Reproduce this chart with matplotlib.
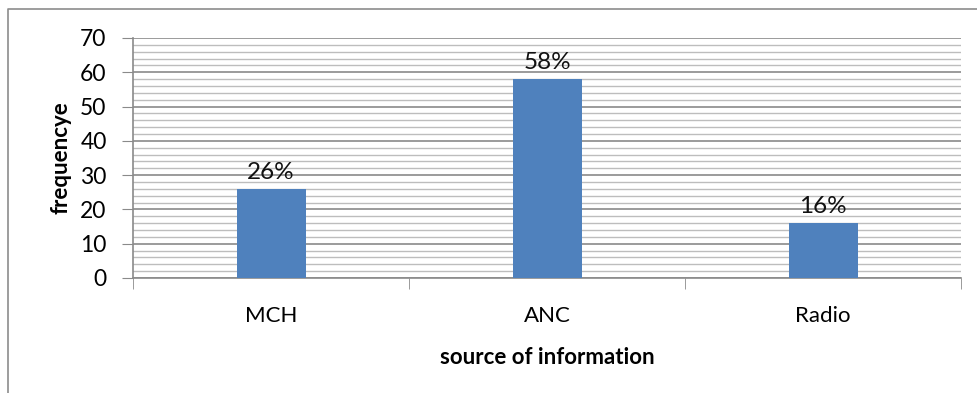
import matplotlib.pyplot as plt
from matplotlib.lines import Line2D
from matplotlib.ticker import MultipleLocator

categories = ["MCH", "ANC", "Radio"]
counts = [26, 58, 16]
labels = ["26%", "58%", "16%"]

plt.rcParams["font.family"] = ["Lato", "DejaVu Sans"]

fig = plt.figure(figsize=(9.77, 3.93), dpi=100)
ax = fig.add_axes([133 / 977, 1 - 278 / 393, (961 - 133) / 977, (278 - 38) / 393])

x = range(len(categories))
bars = ax.bar(x, counts, width=0.25, color="#4F81BD", zorder=3)
for b, txt in zip(bars, labels):
    ax.annotate(txt, (b.get_x() + b.get_width() / 2, b.get_height()),
                xytext=(0, 4.5), textcoords="offset points",
                ha="center", va="bottom", fontsize=17.5, color="#111111")

ax.set_xlim(-0.5, 2.5)
ax.set_ylim(0, 70)
ax.yaxis.set_major_locator(MultipleLocator(10))
ax.yaxis.set_minor_locator(MultipleLocator(2))
ax.grid(which="major", axis="y", color="#8a8a8a", linewidth=1.2, zorder=0)
ax.grid(which="minor", axis="y", color="#bdbdbd", linewidth=1.0, zorder=0)
ax.tick_params(axis="y", which="minor", length=0)
ax.tick_params(axis="y", which="major", length=8, color="#8a8a8a",
               labelsize=16.5, pad=11)

# category labels centred, tick marks on the boundaries
ax.set_xticks(list(x))
ax.set_xticklabels(categories)
ax.tick_params(axis="x", which="major", length=0, labelsize=16, pad=20)
ax.set_xticks([-0.5, 0.5, 1.5, 2.5], minor=True)
ax.tick_params(axis="x", which="minor", length=8, color="#8a8a8a")

for side in ("top", "right"):
    ax.spines[side].set_visible(False)
for side in ("left", "bottom"):
    ax.spines[side].set_color("#8a8a8a")
    ax.spines[side].set_linewidth(1.2)

ax.set_xlabel("source of information", fontsize=16, fontweight="bold", labelpad=15)
ax.set_ylabel("frequencye", fontsize=16, fontweight="bold", labelpad=6)

# chart-area border
fig.add_artist(Line2D([8 / 977, 8 / 977, 1.0], [0.0, 1 - 9 / 393, 1 - 9 / 393],
                      transform=fig.transFigure, color="#8c8c8c", linewidth=1.2))

fig.savefig("out.png", dpi=100)
